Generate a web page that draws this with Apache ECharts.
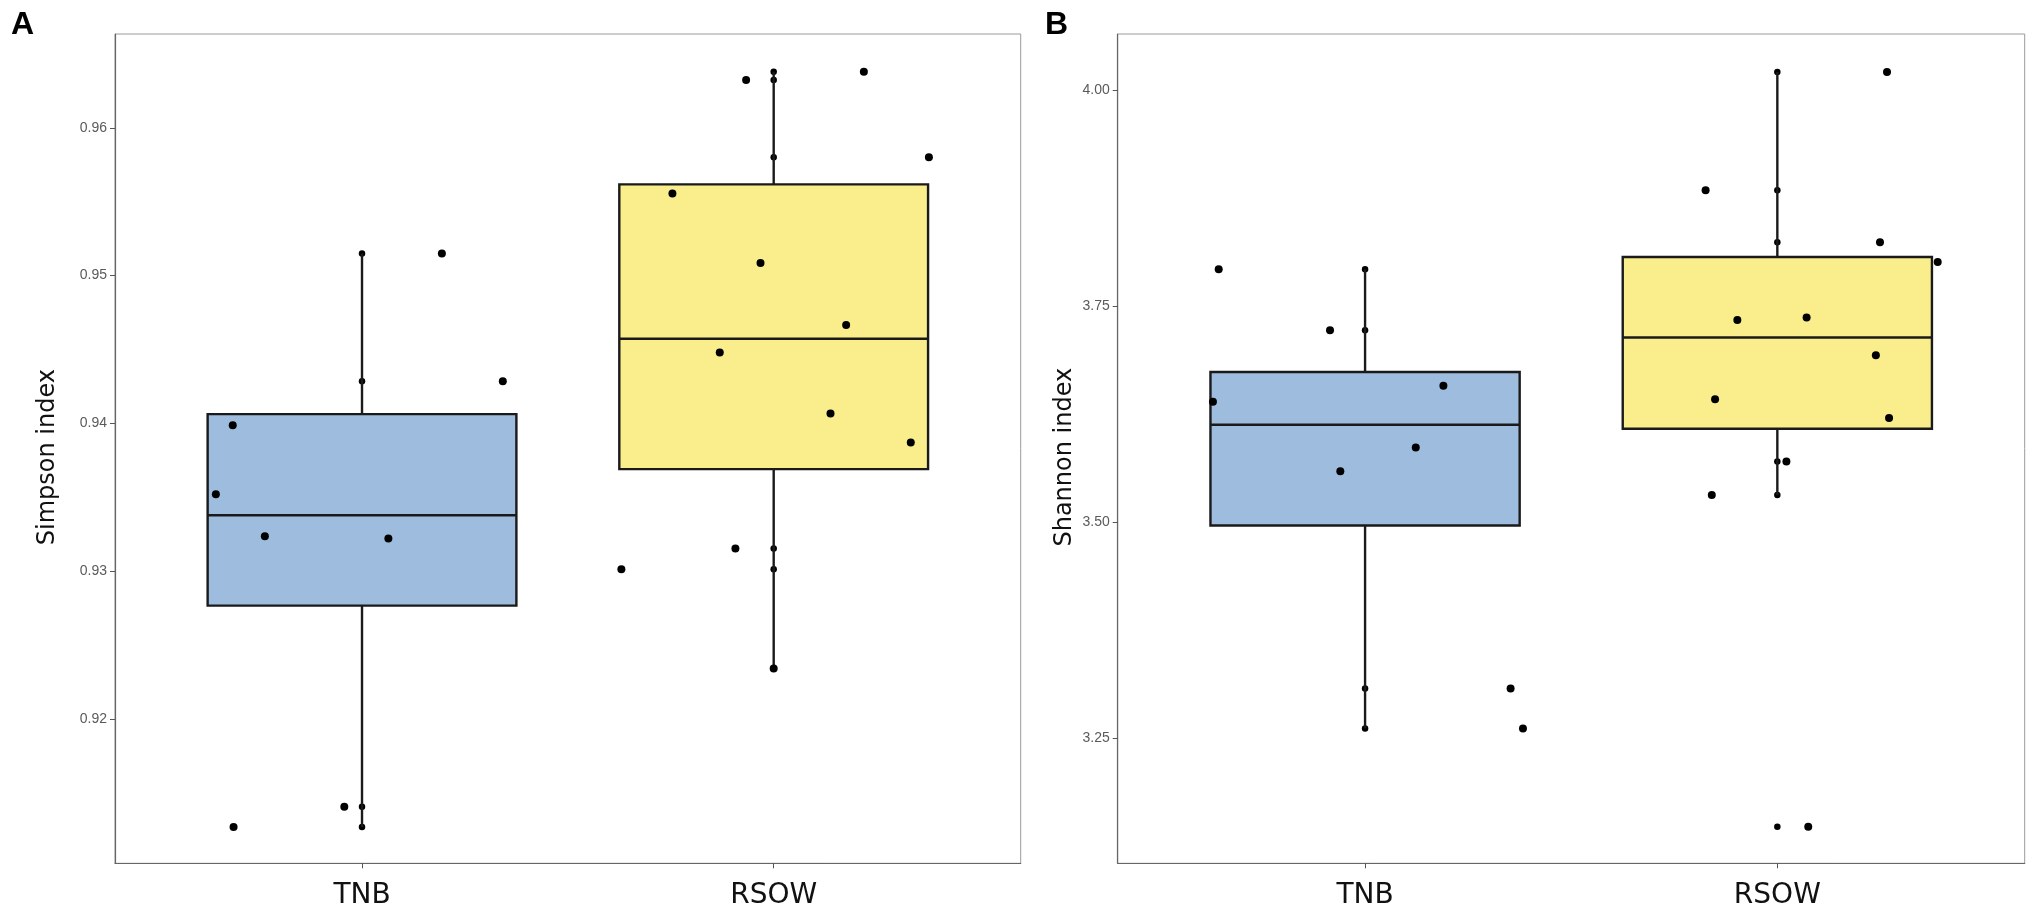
<!DOCTYPE html>
<html><head><meta charset="utf-8">
<script src="https://cdn.jsdelivr.net/npm/echarts@6/dist/echarts.min.js"></script>
<style>html,body{margin:0;padding:0;background:#fff}#c{width:2033px;height:912px}</style>
</head><body><div id="c"></div>
<script>
// ---------- data ----------
const categories = ['TNB', 'RSOW'];
const panelLetters = ['A', 'B'];
const axisTitles = ['Simpson index', 'Shannon index'];

// Panel A: Simpson index (values and jittered x positions)
const simpsonTNB  = [0.9515, 0.94286, 0.93989, 0.93522, 0.93237, 0.93222, 0.91409, 0.91271];
const simpsonTNBx = [1.194, 1.342, 0.686, 0.645, 0.764, 1.064, 0.957, 0.688];
const simpsonRSOW  = [0.96379, 0.96323, 0.958, 0.95556, 0.95085, 0.94667, 0.9448, 0.94068, 0.93871, 0.93154, 0.93014, 0.92344];
const simpsonRSOWx = [2.219, 1.933, 2.377, 1.754, 1.968, 2.176, 1.869, 2.138, 2.333, 1.907, 1.630, 2.0];
const simpsonTicks = [0.92, 0.93, 0.94, 0.95, 0.96];
const simpsonRange = [0.91026, 0.96634];

// Panel B: Shannon index
const shannonTNB  = [3.7928, 3.7222, 3.6578, 3.6393, 3.5864, 3.5590, 3.3075, 3.2612];
const shannonTNBx = [0.645, 0.915, 1.190, 0.631, 1.123, 0.940, 1.353, 1.383];
const shannonRSOW  = [4.0212, 3.8843, 3.8241, 3.8013, 3.7342, 3.7369, 3.6933, 3.6424, 3.6207, 3.5702, 3.5313, 3.1474];
const shannonRSOWx = [2.266, 1.826, 2.249, 2.389, 1.903, 2.071, 2.239, 1.849, 2.271, 2.022, 1.841, 2.075];
const shannonTicks = [3.25, 3.50, 3.75, 4.00];
const shannonRange = [3.105, 4.0652];

const groupColors = ['#9dbcde', '#f9ee8b'];

// ---------- box statistics (type-7 quantiles, 1.5 IQR whiskers) ----------
function quantile(sorted, p) {
  const h = (sorted.length - 1) * p, lo = Math.floor(h), hi = Math.ceil(h);
  return sorted[lo] + (h - lo) * (sorted[hi] - sorted[lo]);
}
function boxStats(vals, xpos) {
  const s = vals.slice().sort((a, b) => a - b);
  const q1 = quantile(s, 0.25), med = quantile(s, 0.5), q3 = quantile(s, 0.75);
  const iqr = q3 - q1;
  const lo = s.find(v => v >= q1 - 1.5 * iqr);
  const hi = s.slice().reverse().find(v => v <= q3 + 1.5 * iqr);
  return [xpos, lo, q1, med, q3, hi];
}

function renderBox(params, api) {
  const x = api.value(0);
  const pLo = api.coord([x, api.value(1)]);
  const pQ1 = api.coord([x, api.value(2)]);
  const pMed = api.coord([x, api.value(3)]);
  const pQ3 = api.coord([x, api.value(4)]);
  const pHi = api.coord([x, api.value(5)]);
  const hw = api.size([0.75, 0])[0] / 2;
  const cx = pMed[0];
  const ls = { stroke: '#1a1a1a', lineWidth: 2.4 };
  return {
    type: 'group',
    children: [
      { type: 'line', shape: { x1: cx, y1: pHi[1], x2: cx, y2: pQ3[1] }, style: ls },
      { type: 'line', shape: { x1: cx, y1: pQ1[1], x2: cx, y2: pLo[1] }, style: ls },
      { type: 'rect', shape: { x: cx - hw, y: pQ3[1], width: 2 * hw, height: pQ1[1] - pQ3[1] },
        style: { fill: api.visual('color'), stroke: '#1a1a1a', lineWidth: 2.4 } },
      { type: 'line', shape: { x1: cx - hw, y1: pMed[1], x2: cx + hw, y2: pMed[1] }, style: ls }
    ]
  };
}

const panels = [
  { tnb: simpsonTNB, tnbx: simpsonTNBx, rsow: simpsonRSOW, rsowx: simpsonRSOWx, ticks: simpsonTicks, range: simpsonRange, gap: 55 },
  { tnb: shannonTNB, tnbx: shannonTNBx, rsow: shannonRSOW, rsowx: shannonRSOWx, ticks: shannonTicks, range: shannonRange, gap: 41 }
];

const grids = [
  { left: 115, top: 34, width: 905.7, height: 829.3 },
  { left: 1117.7, top: 34, width: 907, height: 829.3 }
];

const xAxes = [], yAxes = [], series = [];
panels.forEach((p, i) => {
  xAxes.push({
    type: 'value', gridIndex: i, min: 0.4, max: 2.6,
    splitLine: { show: false },
    axisLine: { show: true, onZero: false, lineStyle: { color: '#666', width: 1.2 } },
    axisTick: { show: true, length: 5, customValues: [1, 2], lineStyle: { color: '#555' } },
    axisLabel: { customValues: [1, 2], formatter: v => categories[Math.round(v) - 1],
      fontFamily: 'DejaVu Sans', fontSize: 28, color: '#111', margin: 18 }
  });
  yAxes.push({
    type: 'value', gridIndex: i, min: p.range[0], max: p.range[1],
    splitLine: { show: false },
    axisLine: { show: true, onZero: false, lineStyle: { color: '#666', width: 1.2 } },
    axisTick: { show: true, length: 5, customValues: p.ticks, lineStyle: { color: '#555' } },
    axisLabel: { customValues: p.ticks, formatter: v => v.toFixed(2),
      fontFamily: 'Liberation Sans', fontSize: 14, color: '#5a5a5a', margin: 8 },
    name: axisTitles[i], nameLocation: 'middle', nameGap: p.gap,
    nameTextStyle: { fontFamily: 'DejaVu Sans', fontSize: 24, color: '#111', padding: [0, 17, 0, 0] }
  });
  // all observations at group centre (hidden behind the box, visible on whiskers)
  series.push({
    type: 'scatter', xAxisIndex: i, yAxisIndex: i, symbolSize: 6.5, silent: true, z: 1,
    itemStyle: { color: '#000', opacity: 1 },
    data: p.tnb.map(v => [1, v]).concat(p.rsow.map(v => [2, v]))
  });
  series.push({
    type: 'custom', xAxisIndex: i, yAxisIndex: i, silent: true, z: 2,
    renderItem: renderBox,
    encode: { x: 0, y: [1, 2, 3, 4, 5] },
    data: [
      { value: boxStats(p.tnb, 1), itemStyle: { color: groupColors[0] } },
      { value: boxStats(p.rsow, 2), itemStyle: { color: groupColors[1] } }
    ]
  });
  // jittered observations
  series.push({
    type: 'scatter', xAxisIndex: i, yAxisIndex: i, symbolSize: 8, silent: true, z: 3,
    itemStyle: { color: '#000', opacity: 1 },
    data: p.tnb.map((v, k) => [p.tnbx[k], v]).concat(p.rsow.map((v, k) => [p.rsowx[k], v]))
  });
});

const chart = echarts.init(document.getElementById('c'), null, { renderer: 'canvas' });
chart.setOption({
  animation: false,
  backgroundColor: '#fff',
  grid: grids.map(g => Object.assign({ show: true, borderColor: '#9a9a9a', borderWidth: 1, backgroundColor: 'transparent' }, g)),
  xAxis: xAxes,
  yAxis: yAxes,
  series: series,
  graphic: [
    { type: 'text', left: 11, top: 9, style: { text: panelLetters[0], font: 'bold 32px "Liberation Sans"', fill: '#000' } },
    { type: 'text', left: 1045, top: 9, style: { text: panelLetters[1], font: 'bold 32px "Liberation Sans"', fill: '#000' } }
  ]
});
</script></body></html>
